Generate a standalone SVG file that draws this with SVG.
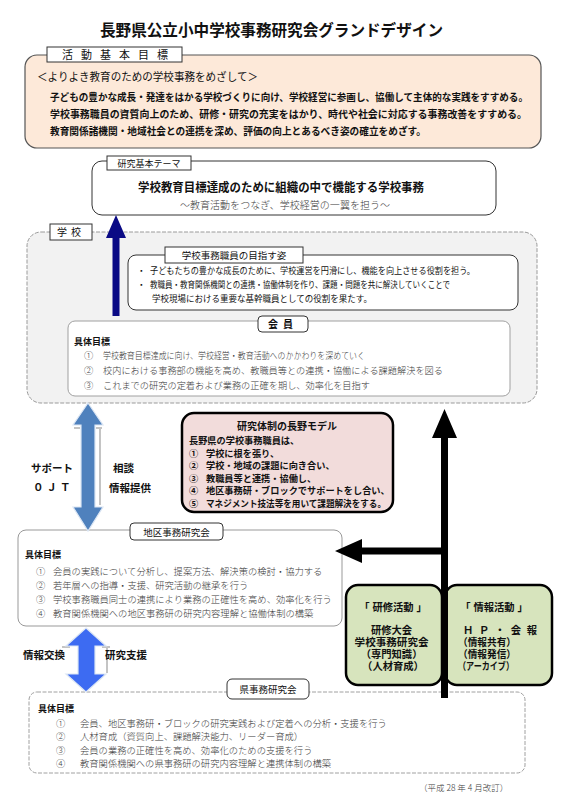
<svg xmlns="http://www.w3.org/2000/svg" width="564" height="800" viewBox="0 0 564 800">
<style>
text { font-family: "Noto Sans CJK JP", "Noto Sans", sans-serif; fill: #111; }
.b { font-weight: bold; }
.m { font-weight: 300; fill: #3a3a3a; }
.gr { font-family: "Liberation Sans", "Noto Sans CJK JP", sans-serif; font-weight: bold; font-size: 10.3px; }
.tab { fill: #fff; stroke: #333; stroke-width: 1; }
.thick { stroke: #000; stroke-width: 2.5; }
</style>
<rect width="564" height="800" fill="#fff"/>
<text x="100" y="36" font-size="16" class="b" textLength="343" lengthAdjust="spacingAndGlyphs">長野県公立小中学校事務研究会グランドデザイン</text>

<g id="katsudo">
<rect x="25" y="55" width="516" height="93" rx="12" fill="#fde9d9" stroke="#555" stroke-width="1.2"/>
<rect x="47" y="47" width="135" height="15" class="tab"/>
<text x="62" y="58.5" font-size="11" textLength="106" lengthAdjust="spacing">活動基本目標</text>
<text x="37" y="81" font-size="11" textLength="221" lengthAdjust="spacingAndGlyphs">＜よりよき教育のための学校事務をめざして＞</text>
<text font-size="10" class="b">
<tspan x="50" y="101" textLength="478" lengthAdjust="spacingAndGlyphs">子どもの豊かな成長・発達をはかる学校づくりに向け、学校経営に参画し、協働して主体的な実践をすすめる。</tspan>
<tspan x="50" y="118" textLength="477" lengthAdjust="spacingAndGlyphs">学校事務職員の資質向上のため、研修・研究の充実をはかり、時代や社会に対応する事務改善をすすめる。</tspan>
<tspan x="50" y="135" textLength="376" lengthAdjust="spacingAndGlyphs">教育関係諸機関・地域社会との連携を深め、評価の向上とあるべき姿の確立をめざす。</tspan>
</text>
</g>

<g id="theme">
<rect x="92" y="161" width="404" height="54" rx="10" fill="#fff" stroke="#333" stroke-width="1"/>
<rect x="107" y="156" width="84" height="14" class="tab"/>
<text x="149" y="167" font-size="9" text-anchor="middle">研究基本テーマ</text>
<text x="281" y="192" font-size="12" class="b" text-anchor="middle" textLength="286" lengthAdjust="spacingAndGlyphs">学校教育目標達成のために組織の中で機能する学校事務</text>
<text x="285" y="209" font-size="10" class="m" fill="#555" text-anchor="middle" textLength="210" lengthAdjust="spacingAndGlyphs">～教育活動をつなぎ、学校経営の一翼を担う～</text>
</g>

<g id="gakko">
<rect x="27" y="232" width="510" height="171" rx="14" fill="#f2f2f2" stroke="#9a9a9a" stroke-width="1" stroke-dasharray="4 1.5"/>
<rect x="50" y="224" width="42" height="16" class="tab"/>
<text x="71" y="236" font-size="10" text-anchor="middle" letter-spacing="4">学校</text>
</g>

<g id="mezasu">
<rect x="128" y="255" width="390" height="55" rx="8" fill="#fff" stroke="#333" stroke-width="1"/>
<rect x="165" y="247" width="138" height="16" class="tab"/>
<text x="234" y="259" font-size="9.5" text-anchor="middle">学校事務職員の目指す姿</text>
<text font-size="8.7">
<tspan x="137" y="274">・</tspan>
<tspan x="150" y="274" textLength="325" lengthAdjust="spacingAndGlyphs">子どもたちの豊かな成長のために、学校運営を円滑にし、機能を向上させる役割を担う。</tspan>
<tspan x="137" y="288">・</tspan>
<tspan x="150" y="288" textLength="300" lengthAdjust="spacingAndGlyphs">教職員・教育関係機関との連携・協働体制を作り、課題・問題を共に解決していくことで</tspan>
<tspan x="152" y="302" textLength="220" lengthAdjust="spacingAndGlyphs">学校現場における重要な基幹職員としての役割を果たす。</tspan>
</text>
</g>

<g id="kaiin">
<rect x="68" y="321" width="442" height="75" rx="7" fill="#fff" stroke="#a0a0a0" stroke-width="1"/>
<rect x="258" y="316" width="50" height="16" rx="4" class="tab"/>
<text x="283" y="328" font-size="10" class="b" text-anchor="middle" letter-spacing="5">会員</text>
<text x="74" y="345" font-size="9" class="b">具体目標</text>
<text font-size="9.3" class="m">
<tspan x="84" y="359">①</tspan>
<tspan x="103" y="359" textLength="262" lengthAdjust="spacingAndGlyphs">学校教育目標達成に向け、学校経営・教育活動へのかかわりを深めていく</tspan>
<tspan x="84" y="374">②</tspan>
<tspan x="103" y="374" textLength="340" lengthAdjust="spacingAndGlyphs">校内における事務部の機能を高め、教職員等との連携・協働による課題解決を図る</tspan>
<tspan x="84" y="389">③</tspan>
<tspan x="103" y="389" textLength="267" lengthAdjust="spacingAndGlyphs">これまでの研究の定着および業務の正確を期し、効率化を目指す</tspan>
</text>
</g>

<g id="nagano-model">
<rect x="182" y="413" width="211" height="99" rx="12" fill="#f2dcdb" class="thick"/>
<text x="287" y="430" font-size="10" class="b" text-anchor="middle">研究体制の長野モデル</text>
<text font-size="9.2" class="b">
<tspan x="189" y="444">長野県の学校事務職員は、</tspan>
<tspan x="189" y="456.5">①</tspan><tspan x="206" y="456.5">学校に根を張り、</tspan>
<tspan x="189" y="469">②</tspan><tspan x="206" y="469">学校・地域の課題に向き合い、</tspan>
<tspan x="189" y="481.5">③</tspan><tspan x="206" y="481.5">教職員等と連携・協働し、</tspan>
<tspan x="189" y="494">④</tspan><tspan x="206" y="494">地区事務研・ブロックでサポートをし合い、</tspan>
<tspan x="189" y="506.5">⑤</tspan><tspan x="206" y="506.5" textLength="180" lengthAdjust="spacingAndGlyphs">マネジメント技法等を用いて課題解決をする。</tspan>
</text>
</g>

<g id="chiku">
<rect x="18" y="530" width="324" height="96" rx="8" fill="#fff" stroke="#999" stroke-width="1"/>
<rect x="130" y="523" width="93" height="17" rx="4" class="tab"/>
<text x="176.5" y="535.5" font-size="9.5" text-anchor="middle">地区事務研究会</text>
<text x="25" y="558" font-size="9" class="b">具体目標</text>
<text font-size="9.3" class="m">
<tspan x="36" y="574.5">①</tspan><tspan x="53" y="574.5">会員の実践について分析し、提案方法、解決策の検討・協力する</tspan>
<tspan x="36" y="588.5">②</tspan><tspan x="53" y="588.5">若年層への指導・支援、研究活動の継承を行う</tspan>
<tspan x="36" y="602.5">③</tspan><tspan x="53" y="602.5">学校事務職員同士の連携により業務の正確性を高め、効率化を行う</tspan>
<tspan x="36" y="616.5">④</tspan><tspan x="53" y="616.5">教育関係機関への地区事務研の研究内容理解と協働体制の構築</tspan>
</text>
</g>

<g id="ken">
<rect x="29" y="692" width="496" height="81" rx="8" fill="#fff" stroke="#a0a0a0" stroke-width="1" stroke-dasharray="4 1.5"/>
<rect x="227" y="679" width="82" height="20" rx="5" class="tab"/>
<text x="268" y="693" font-size="9.5" text-anchor="middle">県事務研究会</text>
<text x="38" y="711.5" font-size="9" class="b">具体目標</text>
<text font-size="9.3" class="m">
<tspan x="56" y="726.5">①</tspan><tspan x="80" y="726.5">会員、地区事務研・ブロックの研究実践および定着への分析・支援を行う</tspan>
<tspan x="56" y="740">②</tspan><tspan x="80" y="740">人材育成（資質向上、課題解決能力、リーダー育成）</tspan>
<tspan x="56" y="753.5">③</tspan><tspan x="80" y="753.5">会員の業務の正確性を高め、効率化のための支援を行う</tspan>
<tspan x="56" y="767">④</tspan><tspan x="80" y="767">教育関係機関への県事務研の研究内容理解と連携体制の構築</tspan>
</text>
</g>

<g id="kenshu">
<rect x="346" y="585" width="96" height="100" rx="12" fill="#d7e4bd" class="thick"/>
<text x="393" y="611" class="gr" font-size="10.5" text-anchor="middle">「 研修活動 」</text>
<text class="gr" text-anchor="middle">
<tspan x="393" y="634">研修大会</tspan>
<tspan x="393" y="646" textLength="74" lengthAdjust="spacingAndGlyphs">学校事務研究会</tspan>
<tspan x="393" y="658">（専門知識）</tspan>
<tspan x="393" y="670">（人材育成）</tspan>
</text>
</g>

<g id="joho">
<rect x="445" y="585" width="107" height="100" rx="12" fill="#d7e4bd" class="thick"/>
<text x="494" y="611" class="gr" text-anchor="middle">「 情報活動 」</text>
<text class="gr">
<tspan x="463" y="634" textLength="74" lengthAdjust="spacing">ＨＰ・会報</tspan>
<tspan x="458" y="646" textLength="58" lengthAdjust="spacingAndGlyphs">（情報共有）</tspan>
<tspan x="458" y="658" textLength="58" lengthAdjust="spacingAndGlyphs">（情報発信）</tspan>
<tspan x="458" y="670" textLength="56" lengthAdjust="spacingAndGlyphs">（アーカイブ）</tspan>
</text>
</g>

<g id="connectors">
<polygon points="116,215 126,238 119.5,238 119.5,316 112.5,316 112.5,238 106,238" fill="#0a0a85"/>
<path d="M74,428 H80 M102,428 H96 M100,428 V505" stroke="#c4c4c4" stroke-width="2" fill="none"/>
<polygon points="88,403 103,425 95,425 95,507 103,507 88,531 73,507 81,507 81,425 73,425" fill="#4f81bd" stroke="#dbe6f4" stroke-width="1.2"/>
<path d="M62,647 H70 M110,647 H102 M107,647 V673" stroke="#c4c4c4" stroke-width="2" fill="none"/>
<polygon points="86,628 106,646 95,646 95,674 106,674 86,692 66,674 78,674 78,646 66,646" fill="#3d6bf2" stroke="#dbe6f4" stroke-width="1.2"/>
<polygon points="444.5,409 457,438 448,438 448,698 441,698 441,438 432,438" fill="#000"/>
<polygon points="335,551 362,539 362,547.5 441,547.5 441,554.5 362,554.5 362,563" fill="#000"/>
</g>

<g id="labels">
<text x="31" y="472" font-size="10.5" class="b">サポート</text>
<text x="33" y="491" font-size="10.5" class="b" letter-spacing="3">０ＪＴ</text>
<text x="113" y="472" font-size="10.5" class="b">相談</text>
<text x="109" y="492" font-size="10.5" class="b">情報提供</text>
<text x="23" y="659" font-size="10.5" class="b">情報交換</text>
<text x="105" y="659" font-size="10.5" class="b">研究支援</text>
<text x="419" y="791" font-size="8.5" class="m">（平成 28 年 4 月改訂）</text>
</g>
</svg>
